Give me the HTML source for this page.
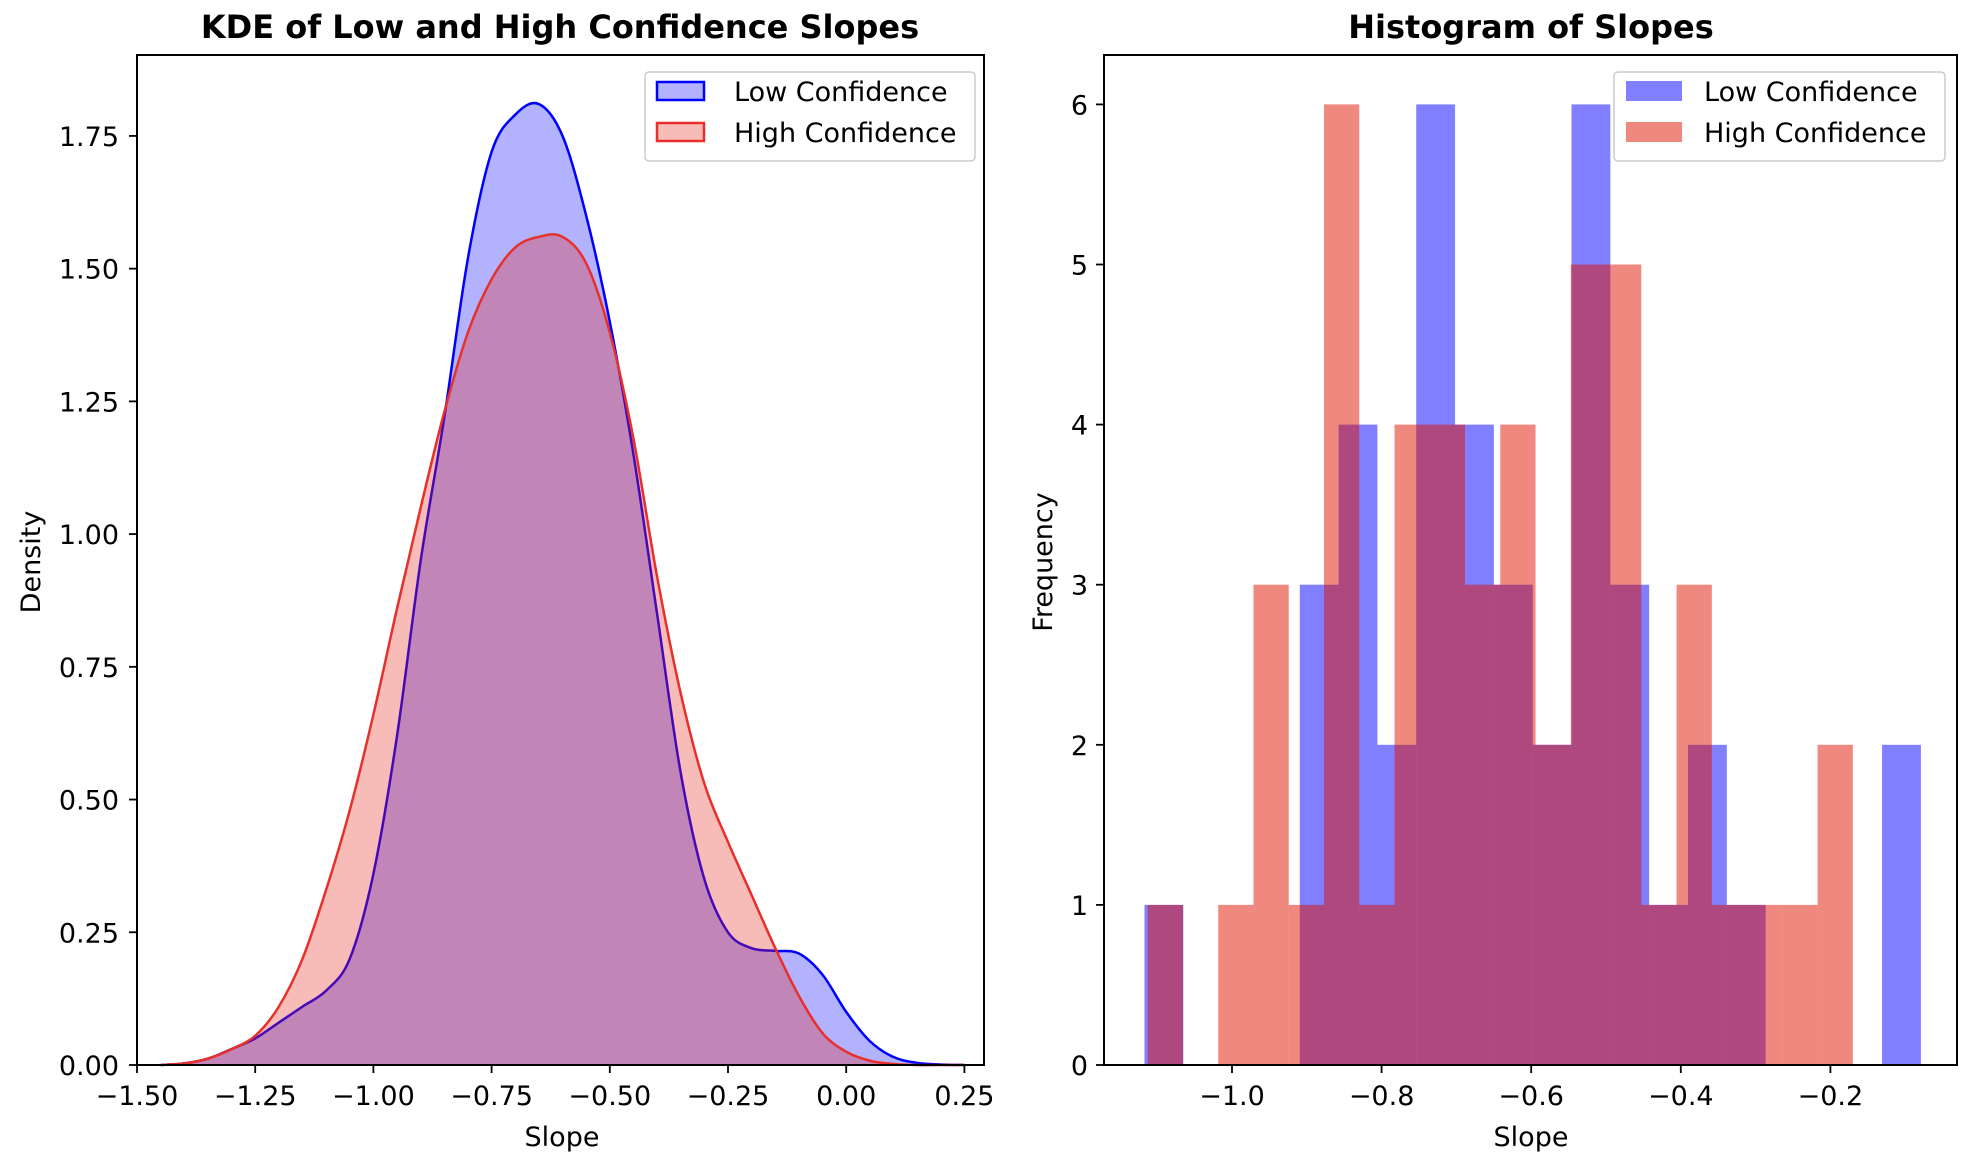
<!DOCTYPE html>
<html><head><meta charset="utf-8"><style>
html,body{margin:0;padding:0;background:#fff}
svg{display:block;font-family:"DejaVu Sans","Liberation Sans",sans-serif}
</style></head><body>
<svg id="chart" width="1972" height="1160" viewBox="0 0 1972 1160">
<g id="kde"></g>
<g id="hist"></g>
</svg>
<script>
// KDE data
const kdeX = [-1.45,-1.40,-1.35,-1.30,-1.25,-1.20,-1.15,-1.10,-1.05,-1.00,-0.95,-0.90,-0.85,-0.80,-0.75,-0.70,-0.65,-0.60,-0.55,-0.50,-0.45,-0.40,-0.35,-0.30,-0.25,-0.20,-0.15,-0.10,-0.05,0.00,0.05,0.10,0.15,0.20,0.25];
const lowDensity = [0.0,0.003,0.012,0.03,0.05,0.08,0.11,0.14,0.20,0.36,0.62,0.95,1.22,1.52,1.72,1.79,1.81,1.75,1.60,1.40,1.15,0.85,0.55,0.35,0.25,0.22,0.215,0.21,0.17,0.10,0.045,0.015,0.004,0.001,0.0];
const highDensity = [0.0,0.003,0.012,0.03,0.055,0.11,0.20,0.33,0.48,0.66,0.86,1.05,1.23,1.38,1.48,1.54,1.56,1.56,1.51,1.38,1.18,0.92,0.70,0.53,0.42,0.32,0.22,0.13,0.06,0.025,0.008,0.002,0.0,0.0,0.0];
const kdeXTicks = [-1.50,-1.25,-1.00,-0.75,-0.50,-0.25,0.00,0.25];
const kdeYTicks = [0,0.25,0.5,0.75,1.0,1.25,1.5,1.75];
// Histogram data
const lowBinStart = -1.117, lowBinEnd = -0.079;
const lowCounts = [1,0,0,0,3,4,2,6,4,3,2,6,3,1,2,1,0,0,0,2];
const highBinStart = -1.1127, highBinEnd = -0.170;
const highCounts = [1,0,1,3,1,6,1,4,4,3,4,2,5,5,1,3,1,1,1,2];
const histXTicks = [-1.0,-0.8,-0.6,-0.4,-0.2];
const histYTicks = [0,1,2,3,4,5,6];

const NS="http://www.w3.org/2000/svg";
function el(tag,attrs,parent){const e=document.createElementNS(NS,tag);for(const k in attrs)e.setAttribute(k,attrs[k]);parent.appendChild(e);return e;}
function fmt(v,d){return (v<0?"\u2212":"")+Math.abs(v).toFixed(d);}
const FS=27;
const plotTop=55,bottom=1065;
// ---- KDE panel
const kg=document.getElementById('kde');
const kx0=137,kx1=984;
const kxs=v=>kx0+(v+1.5)*472.8;
const kys=v=>bottom-v*530.9;
function smoothPath(xs,ys){
  const p=xs.map((x,i)=>[kxs(x),kys(ys[i])]);
  let d="M"+p[0][0]+","+p[0][1];
  for(let i=0;i<p.length-1;i++){
    const p0=p[Math.max(0,i-1)],p1=p[i],p2=p[i+1],p3=p[Math.min(p.length-1,i+2)];
    const c1=[p1[0]+(p2[0]-p0[0])/6,p1[1]+(p2[1]-p0[1])/6];
    const c2=[p2[0]-(p3[0]-p1[0])/6,p2[1]-(p3[1]-p1[1])/6];
    d+=" C"+c1[0]+","+c1[1]+" "+c2[0]+","+c2[1]+" "+p2[0]+","+p2[1];
  }
  return d;
}
const lowD=smoothPath(kdeX,lowDensity), highD=smoothPath(kdeX,highDensity);
const base=" L"+kxs(kdeX[kdeX.length-1])+","+bottom+" L"+kxs(kdeX[0])+","+bottom+" Z";
let e;
e=el('path',{d:lowD+base,fill:'rgba(0,0,255,0.3)',stroke:'none'},kg);


e=el('path',{d:lowD,fill:'none',stroke:'#0000ff','stroke-width':2.5},kg);


e=el('path',{d:highD+base,fill:'rgba(230,30,20,0.3)',stroke:'none'},kg);


e=el('path',{d:highD,fill:'none',stroke:'#e8302a','stroke-width':2.5},kg);


e=el('rect',{x:kx0,y:plotTop,width:kx1-kx0,height:bottom-plotTop,fill:'none',stroke:'#000','stroke-width':2},kg);


kdeXTicks.forEach(t=>{const x=kxs(t);
  el('line',{x1:x,x2:x,y1:bottom,y2:bottom+8,stroke:'#000','stroke-width':1.8},kg);
  const tx=el('text',{x:x,y:1105,'font-size':FS,'text-anchor':'middle'},kg);tx.textContent=fmt(t,2);
  
  });
kdeYTicks.forEach(t=>{const y=kys(t);
  el('line',{x1:kx0-8,x2:kx0,y1:y,y2:y,stroke:'#000','stroke-width':1.8},kg);
  const tx=el('text',{x:119,y:y+10,'font-size':FS,'text-anchor':'end'},kg);tx.textContent=t.toFixed(2);
  
  });
e=el('text',{x:562,y:1146,'font-size':FS,'text-anchor':'middle'},kg);e.textContent='Slope';


e=el('text',{x:40,y:562,'font-size':FS,'text-anchor':'middle',transform:'rotate(-90 40 562)'},kg);e.textContent='Density';


e=el('text',{x:560,y:38,'font-size':32,'font-weight':'bold','text-anchor':'middle'},kg);e.textContent='KDE of Low and High Confidence Slopes';


// legend
const lg=el('g',{},kg);


el('rect',{x:645,y:72,width:330,height:89,rx:4,fill:'rgba(255,255,255,0.8)',stroke:'#ccc','stroke-width':1.5},lg);
el('rect',{x:657,y:82,width:47,height:18,fill:'rgba(0,0,255,0.3)',stroke:'#0000ff','stroke-width':2.5},lg);
e=el('text',{x:734,y:101,'font-size':FS},lg);e.textContent='Low Confidence';


el('rect',{x:657,y:123,width:47,height:18,fill:'rgba(230,30,20,0.3)',stroke:'#e8302a','stroke-width':2.5},lg);
e=el('text',{x:734,y:142,'font-size':FS},lg);e.textContent='High Confidence';



// ---- Histogram panel
const hg=document.getElementById('hist');
const hx0=1104,hx1=1957;
const hxs=v=>1232+(v+1.0)*748;
const hys=v=>bottom-v*160.1;
function drawBars(start,end,counts,color,name){
  const w=(end-start)/counts.length;
  counts.forEach((c,i)=>{ if(c<=0) return;
    const x=hxs(start+i*w), x2=hxs(start+(i+1)*w);
    const r=el('rect',{x:x,y:hys(c),width:x2-x,height:bottom-hys(c),fill:color},hg);
    
    
  });
}
drawBars(lowBinStart,lowBinEnd,lowCounts,'rgba(0,0,255,0.5)','low-confidence-bar');
drawBars(highBinStart,highBinEnd,highCounts,'rgba(224,18,0,0.5)','high-confidence-bar');
e=el('rect',{x:hx0,y:plotTop,width:hx1-hx0,height:bottom-plotTop,fill:'none',stroke:'#000','stroke-width':2},hg);


histXTicks.forEach(t=>{const x=hxs(t);
  el('line',{x1:x,x2:x,y1:bottom,y2:bottom+8,stroke:'#000','stroke-width':1.8},hg);
  const tx=el('text',{x:x,y:1105,'font-size':FS,'text-anchor':'middle'},hg);tx.textContent=fmt(t,1);
  
  });
histYTicks.forEach(t=>{const y=hys(t);
  el('line',{x1:hx0-8,x2:hx0,y1:y,y2:y,stroke:'#000','stroke-width':1.8},hg);
  const tx=el('text',{x:1088,y:y+10,'font-size':FS,'text-anchor':'end'},hg);tx.textContent=String(t);
  
  });
e=el('text',{x:1531,y:1146,'font-size':FS,'text-anchor':'middle'},hg);e.textContent='Slope';


e=el('text',{x:1052,y:562,'font-size':FS,'text-anchor':'middle',transform:'rotate(-90 1052 562)'},hg);e.textContent='Frequency';


e=el('text',{x:1531,y:38,'font-size':32,'font-weight':'bold','text-anchor':'middle'},hg);e.textContent='Histogram of Slopes';


const lg2=el('g',{},hg);


el('rect',{x:1614,y:72,width:331,height:89,rx:4,fill:'rgba(255,255,255,0.8)',stroke:'#ccc','stroke-width':1.5},lg2);
el('rect',{x:1626,y:81,width:56,height:20,fill:'rgba(0,0,255,0.5)'},lg2);
e=el('text',{x:1704,y:101,'font-size':FS},lg2);e.textContent='Low Confidence';


el('rect',{x:1626,y:122,width:56,height:20,fill:'rgba(224,18,0,0.5)'},lg2);
e=el('text',{x:1704,y:142,'font-size':FS},lg2);e.textContent='High Confidence';


</script>
</body></html>
